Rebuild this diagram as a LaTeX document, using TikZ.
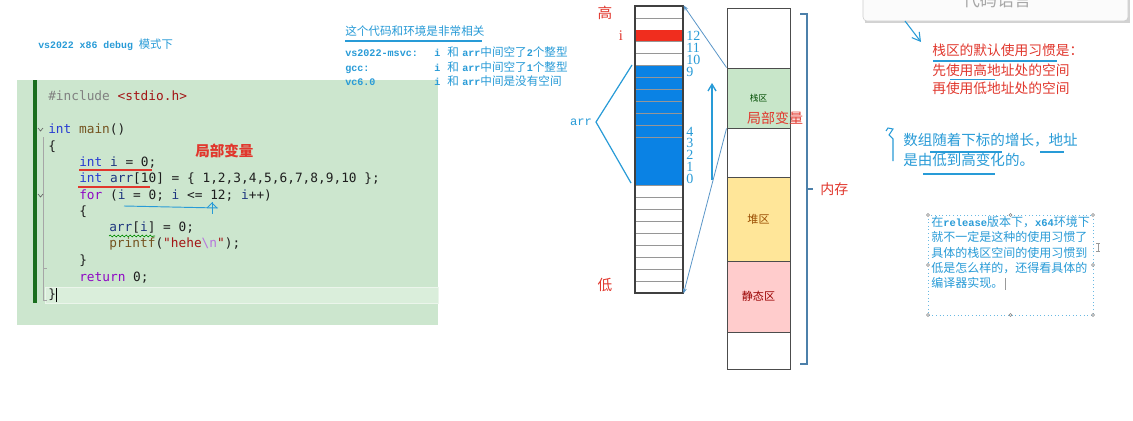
\documentclass[tikz,border=0pt]{standalone}
\usepackage{fontspec}
\usetikzlibrary{arrows.meta,decorations.pathmorphing}
\newfontfamily\cjk{Noto Sans CJK SC}
\newfontfamily\lmono[Scale=0.87]{Liberation Mono}
\newfontfamily\cmono{DejaVu Sans Mono}
\newfontfamily\lserif{Liberation Serif}
\definecolor{annblue}{RGB}{40,155,215}
\definecolor{annred}{RGB}{225,55,45}
\definecolor{codebg}{RGB}{204,230,206}
\definecolor{codehl}{RGB}{218,238,219}
\definecolor{bargreen}{RGB}{25,110,30}
\definecolor{cellblue}{RGB}{10,130,228}
\definecolor{cellred}{RGB}{240,45,30}
\definecolor{stackg}{RGB}{200,230,201}
\definecolor{heapy}{RGB}{255,230,153}
\definecolor{statp}{RGB}{255,204,204}
\definecolor{linkblue}{RGB}{90,150,200}
\definecolor{kwblue}{RGB}{40,60,210}
\definecolor{ctpurple}{RGB}{143,8,196}
\definecolor{fnbrown}{RGB}{116,83,31}
\definecolor{vrblue}{RGB}{31,55,127}
\definecolor{strred}{RGB}{163,21,21}
\definecolor{escp}{RGB}{183,118,220}
\definecolor{pregray}{RGB}{128,128,128}
\definecolor{codefg}{RGB}{30,30,30}
\definecolor{gridgray}{RGB}{150,150,150}
\newcommand\lm[1]{{\lmono\bfseries #1}}
\newcommand\kw[1]{\textcolor{kwblue}{#1}}
\newcommand\ct[1]{\textcolor{ctpurple}{#1}}
\newcommand\vr[1]{\textcolor{vrblue}{#1}}
\newcommand\fn[1]{\textcolor{fnbrown}{#1}}
\newcommand\st[1]{\textcolor{strred}{#1}}
\tikzset{
  code/.style={anchor=west, inner sep=0pt, text=codefg, font=\cmono\fontsize{9.6}{11}\selectfont, text height=1.6ex, text depth=0.45ex},
  annb/.style={anchor=west, inner sep=0pt, text=annblue, font=\cjk\fontsize{8.7}{10}\selectfont, text height=1.55ex, text depth=0.35ex},
  annr/.style={anchor=west, inner sep=0pt, text=annred, font=\cjk\fontsize{10.3}{12}\selectfont, text height=1.55ex, text depth=0.35ex},
  bigb/.style={anchor=west, inner sep=0pt, text=annblue, font=\cjk\fontsize{10.9}{12}\selectfont, text height=1.55ex, text depth=0.35ex},
  relb/.style={anchor=west, inner sep=0pt, text=annblue, font=\cjk\fontsize{9}{10}\selectfont, text height=1.55ex, text depth=0.35ex},
  idx/.style={anchor=west, inner sep=0pt, text=annblue, font=\lserif\fontsize{10.5}{11}\selectfont},
  region/.style={draw=gray!60!black, line width=0.7pt, minimum width=63*0.75pt, inner sep=0pt},
  link/.style={draw=linkblue, line width=0.6pt},
  handle/.style={draw=gray, fill=white, line width=0.4pt},
}
\begin{document}
\begin{tikzpicture}[x=0.75pt,y=-0.75pt]
\useasboundingbox (0,0) rectangle (1133,421);
\clip (0,0) rectangle (1133,421);
\fill[white] (0,0) rectangle (1133,421);

% ---------- top-left caption ----------
\node[annb, font=\cjk\fontsize{8.5}{10}\selectfont] (cap) at (38,45) {\lm{vs2022 x86 debug }模式下};

% ---------- code box ----------
\fill[codebg] (17,80) rectangle (438,325);
\fill[codehl] (45,287) rectangle (438,303);
\draw[white!60!codebg, line width=0.6pt] (45,287) rectangle (438,303);
\fill[bargreen] (33,80) rectangle (37,303);
\draw[gray!70, line width=0.4pt] (43,137) -- (43,300) -- (47,300);
\draw[gray!70, line width=0.4pt] (43,200) -- (43,268) -- (47,268);
\draw[gray!80!black, line width=0.5pt] (38,128) -- (40.5,131) -- (43,128);
\draw[gray!80!black, line width=0.5pt] (38,194) -- (40.5,197) -- (43,194);

\node[code] (c1) at (48,97) {\textcolor{pregray}{\#include} \st{<stdio.h>}};
\node[code] (c2) at (48,130) {\kw{int} \fn{main}()};
\node[code] (c3) at (48,147) {\{};
\node[code] (c4) at (79,163) {\kw{int} \vr{i} = 0;};
\node[code] (c5) at (79,179) {\kw{int} \vr{arr}[10] = \{ 1,2,3,4,5,6,7,8,9,10 \};};
\node[code] (c6) at (79,196) {\ct{for} (\vr{i} = 0; \vr{i} <= 12; \vr{i}++)};
\node[code] (c7) at (79,212) {\{};
\node[code] (c8) at (109,228) {\vr{arr}[\vr{i}] = 0;};
\node[code] (c9) at (109,244) {\fn{printf}(\st{"hehe}\textcolor{escp}{\textbackslash n}\st{"});};
\node[code] (c10) at (79,261) {\}};
\node[code] (c11) at (79,278) {\ct{return} 0;};
\node[code] (c12) at (48,295) {\}};
\draw[black, line width=0.5pt] (56,288) -- (56,302);

% annotations on the code
\node[annr, font=\cjk\bfseries\fontsize{10.9}{12}\selectfont] (local1) at (195,153) {局部变量};
\draw[annred, line width=0.9pt] (79,170) -- (152,170);
\draw[annred, line width=0.9pt] (78,187) -- (150,187);
\draw[annblue, line width=0.7pt] (124,206) -- (218,208);
\draw[annblue, line width=0.7pt] (212,202) -- (212,214);
\draw[annblue, line width=0.7pt] (207,208) -- (212,203) -- (217,208);
\draw[green!55!black, line width=0.5pt, decorate, decoration={snake, amplitude=0.7pt, segment length=3pt}] (109,236) -- (155,236);

% ---------- top middle text ----------
\node[annb] (env) at (345,32) {这个代码和环境是非常相关};
\draw[annblue, line width=1.1pt] (345,41) -- (482,41);
\node[annb] (e1a) at (345,53) {\lm{vs2022-msvc:}};
\node[annb] (e2a) at (345,68) {\lm{gcc:}};
\node[annb] (e3a) at (345,82) {\lm{vc6.0}};
\foreach \yy/\nm in {53/1,68/2,82/3}{
  \node[annb] (ei\nm) at (434,\yy) {\lm{i}};
  \node[annb] (eh\nm) at (447,\yy) {和};
}
\node[annb] (e1b) at (462,53) {\lm{arr}中间空了\lm{2}个整型};
\node[annb] (e2b) at (462,68) {\lm{arr}中间空了\lm{1}个整型};
\node[annb] (e3b) at (462,82) {\lm{arr}中间是没有空间};

% ---------- memory array ----------
\foreach \k in {0,...,23}{
  \pgfmathsetmacro{\ya}{6+11.958*\k}
  \pgfmathsetmacro{\yb}{6+11.958*(\k+1)}
  \ifnum\k=2
    \fill[cellred] (635,\ya) rectangle (683,\yb);
  \fi
  \ifnum\k>4 \ifnum\k<15
    \fill[cellblue] (635,\ya) rectangle (683,\yb);
  \fi\fi
  \draw[gridgray, line width=0.6pt] (635,\yb) -- (683,\yb);
}
\node[draw=gray!50!black, line width=0.8pt, minimum width=48*0.75pt, minimum height=287*0.75pt, inner sep=0pt] (arrcol) at (659,149.5) {};

\node[idx] (n12) at (686,35.9) {12};
\node[idx] (n11) at (686,47.9) {11};
\node[idx] (n10) at (686,59.8) {10};
\node[idx] (n9) at (686,71.8) {9};
\node[idx] (n4) at (686,131.4) {4};
\node[idx] (n3) at (686,143.3) {3};
\node[idx] (n2) at (686,155.3) {2};
\node[idx] (n1) at (686,167.2) {1};
\node[idx] (n0) at (686,179.2) {0};

\node[text=annred, font=\cjk\fontsize{11}{12}\selectfont, inner sep=0pt] (gao) at (605,13) {高};
\node[text=annred, font=\cjk\fontsize{11}{12}\selectfont, inner sep=0pt] (di) at (605,285) {低};
\node[text=annred, font=\lserif\fontsize{11}{12}\selectfont, inner sep=0pt] (ivar) at (621,36) {i};

\node[text=annblue, font=\lmono\fontsize{10.5}{12}\selectfont, inner sep=0pt] (arrlbl) at (581,122) {arr};
\coordinate (brk) at (596,122);
\coordinate (brkt) at (632,65);
\coordinate (brkb) at (631,183);
\draw[annblue, line width=0.9pt] (brkt) -- (brk) -- (brkb);

\coordinate (upb) at (712,180);
\coordinate (upt) at (712,83);
\draw[annblue, line width=1pt, -{Straight Barb[length=5pt,width=6pt]}] (upb) -- (upt);

% ---------- memory regions ----------
\node[region, minimum height=60*0.75pt] (rtop) at (758.5,38) {};
\node[region, fill=stackg, minimum height=60*0.75pt, text=green!30!black, font=\cjk\fontsize{6.5}{7}\selectfont] (stack) at (758.5,98) {栈区};
\node[region, minimum height=49*0.75pt] (gap) at (758.5,152.5) {};
\node[region, fill=heapy, minimum height=84*0.75pt, text=orange!60!black, font=\cjk\fontsize{8.3}{9}\selectfont] (heap) at (758.5,219) {堆区};
\node[region, fill=statp, minimum height=71*0.75pt, text=red!60!black, font=\cjk\fontsize{8.3}{9}\selectfont] (static) at (758.5,296.5) {静态区};
\node[region, minimum height=37*0.75pt] (rbot) at (758.5,350.5) {};
\node[text=annred, font=\cjk\fontsize{10.5}{12}\selectfont, inner sep=0pt] (local2) at (775,118) {局部变量};

\draw[link, -{Stealth[length=4pt,width=3pt]}] (stack.north west) -- (arrcol.north east);
\draw[link, -{Stealth[length=4pt,width=3pt]}] (stack.south west) -- (arrcol.south east);

% brace
\coordinate (bt) at (800,14);
\coordinate (bb) at (800,364);
\coordinate (bm) at (807,189);
\draw[linkblue!85!black, line width=0.8pt] (bt) -- (807,14) -- (807,364) -- (bb);
\draw[linkblue!85!black, line width=0.8pt] (bm) -- (813,189);
\node[text=annred, font=\cjk\fontsize{10.5}{12}\selectfont, inner sep=0pt, anchor=west] (neicun) at (820,189) {内存};

% ---------- top right ----------
\fill[gray!35] (865,-8) rectangle (1130,23);
\draw[rounded corners=3pt, fill=gray!3, draw=gray!40] (863,-12) rectangle (1128,21);
\node[text=gray!70, font=\cjk\fontsize{12.8}{14}\selectfont, inner sep=0pt] (lang) at (997,0) {代码语言};
\coordinate (pa) at (905,21);
\coordinate (pb) at (921,42);
\draw[annblue, line width=0.8pt, -{Straight Barb[length=6pt,width=7pt]}] (pa) -- (pb);

\node[annr] (r1) at (932,52) {栈区的默认使用习惯是：};
\node[annr] (r2) at (932,72) {先使用高地址处的空间};
\node[annr] (r3) at (932,90) {再使用低地址处的空间};
\draw[annblue, line width=0.9pt] (933,61) -- (1057,61);
\draw[annblue, line width=0.9pt] (950,79.5) -- (995,79.5);

\draw[annblue, line width=0.8pt] (886,131) -- (888,128) -- (893,129) -- (889,135) -- (893,139) -- (893,161);
\node[bigb] (b1) at (903,142) {数组随着下标的增长，地址};
\node[bigb] (b2) at (903,162) {是由低到高变化的。};
\draw[annblue, line width=0.9pt] (930,152) -- (1002,152);
\draw[annblue, line width=0.9pt] (1040,152) -- (1064,152);
\draw[annblue, line width=0.9pt] (923,174) -- (995,174);

% ---------- release box ----------
\draw[annblue!70, dotted, line width=0.7pt] (928,215) rectangle (1093,315);
\foreach \p in {(928,215),(1010.5,215),(1093,215),(928,265),(1093,265),(928,315),(1010.5,315),(1093,315)}
  \draw[handle] \p circle (1.6);
\node[relb] (t1) at (931,223) {在\lm{release}版本下，\lm{x64}环境下};
\node[relb] (t2) at (931,238.5) {就不一定是这种的使用习惯了};
\node[relb] (t3) at (931,254) {具体的栈区空间的使用习惯到};
\node[relb] (t4) at (931,269) {低是怎么样的，还得看具体的};
\node[relb] (t5) at (931,284) {编译器实现。};
\draw[gray!80, line width=0.6pt] (t5.east) ++(2,-6) -- ++(0,12);
\draw[gray!80, line width=0.6pt] (1098,243) -- (1098,251) (1096,243) -- (1100,243) (1096,251) -- (1100,251);
\end{tikzpicture}
\end{document}
